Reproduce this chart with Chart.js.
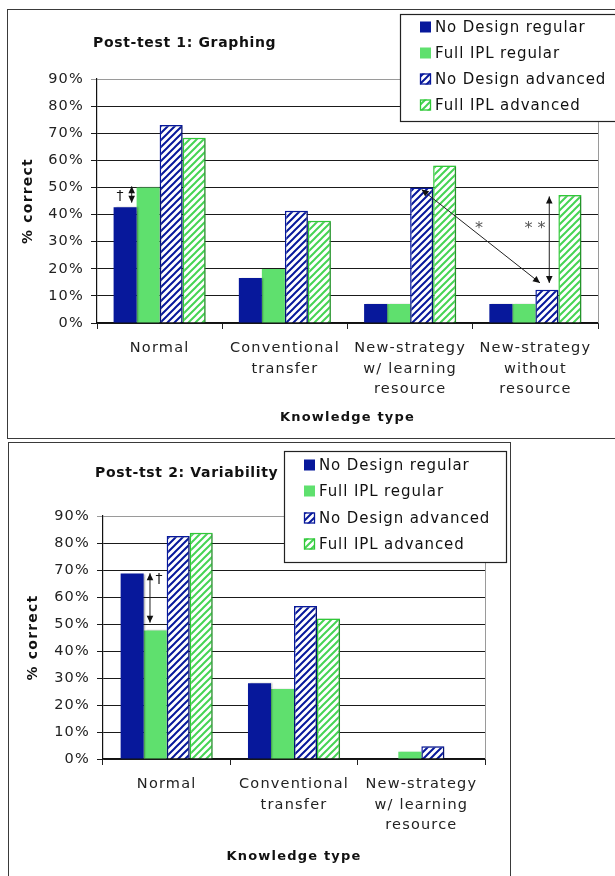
<!DOCTYPE html>
<html>
<head>
<meta charset="utf-8">
<script src="https://cdn.jsdelivr.net/npm/chart.js@4.4.1/dist/chart.umd.min.js"></script>
<style>
  html, body { margin: 0; padding: 0; background: #fff; }
  body { width: 615px; height: 876px; position: relative; overflow: hidden; }
  .frame { position: absolute; border: 1.5px solid #3a3a3a; box-sizing: border-box; }
  canvas { position: absolute; left: 0; }
</style>
</head>
<body>
<div class="frame" style="left:7px;top:9px;width:630px;height:430px"></div>
<div class="frame" style="left:8px;top:442px;width:503px;height:450px"></div>
<canvas id="graphing" width="615" height="440" style="top:0"></canvas>
<canvas id="variability" width="615" height="436" style="top:440px"></canvas>
<script>
// --- Data -----------------------------------------------------------
const seriesNames = ["No Design regular", "Full IPL regular", "No Design advanced", "Full IPL advanced"];

const graphingGroups = [
    ["Normal"],
    ["Conventional", "transfer"],
    ["New-strategy", "w/ learning", "resource"],
    ["New-strategy", "without", "resource"]
];
const graphingNoDesignRegular  = [42.7, 16.6, 7, 7];
const graphingFullIplRegular   = [50, 19.9, 7, 7];
const graphingNoDesignAdvanced = [73, 41.4, 50, 12.3];
const graphingFullIplAdvanced  = [68.3, 37.7, 58.1, 47.2];

const variabilityGroups = [
    ["Normal"],
    ["Conventional", "transfer"],
    ["New-strategy", "w/ learning", "resource"]
];
const variabilityNoDesignRegular  = [68.7, 28.1, 0];
const variabilityFullIplRegular   = [47.6, 25.9, 2.7];
const variabilityNoDesignAdvanced = [82.6, 56.7, 4.7];
const variabilityFullIplAdvanced  = [83.8, 52, 0];

const yTicks = [0, 10, 20, 30, 40, 50, 60, 70, 80, 90];

// significance arrows, x in category units (0 = centre of first group), y in %
const graphingArrows = [
    { x1: -0.223, y1: 50.4, x2: -0.223, y2: 44.4 },
    { x1: 2.092,  y1: 49.2, x2: 3.037,  y2: 14.8 },
    { x1: 3.111,  y1: 46.7, x2: 3.111,  y2: 14.8 }
];
const graphingMarks = [
    { x: -0.316, y: 46.7, text: "†" },
    { x: 2.55,   y: 34.7, text: "*" },
    { x: 2.997,  y: 34.7, text: "* *" }
];
const variabilityArrows = [
    { x1: -0.131, y1: 68.8, x2: -0.131, y2: 50.5 }
];
const variabilityMarks = [
    { x: -0.06, y: 66.6, text: "†" }
];

// --- Styles ---------------------------------------------------------
const FONT = "'DejaVu Sans', Verdana, sans-serif";
const NAVY = "#07189b";
const GREEN = "#5fe06e";

function hatch(stripe) {
    const c = document.createElement("canvas");
    c.width = c.height = 7;
    const g = c.getContext("2d");
    g.fillStyle = "#fff";
    g.fillRect(0, 0, 7, 7);
    g.strokeStyle = stripe;
    g.lineWidth = 2;
    g.beginPath();
    g.moveTo(-1, 8); g.lineTo(8, -1);
    g.moveTo(-1, 1); g.lineTo(1, -1);
    g.moveTo(6, 8); g.lineTo(8, 6);
    g.stroke();
    return c.getContext("2d").createPattern(c, "repeat");
}
const navyHatch = hatch(NAVY);
const greenHatch = hatch("#46d454");

function makeDatasets(values) {
    const fills = [NAVY, GREEN, navyHatch, greenHatch];
    const borders = [NAVY, GREEN, NAVY, "#2fc837"];
    const widths = [0, 0, 1.5, 1.5];
    return values.map((v, i) => ({
        label: seriesNames[i],
        data: v,
        backgroundColor: fills[i],
        borderColor: borders[i],
        borderWidth: widths[i],
        borderSkipped: "bottom"
    }));
}

function drawArrowHead(ctx, tx, ty, fx, fy) {
    const a = Math.atan2(ty - fy, tx - fx), L = 7, W = 3.3;
    ctx.beginPath();
    ctx.moveTo(tx, ty);
    ctx.lineTo(tx - L * Math.cos(a) + W * Math.sin(a), ty - L * Math.sin(a) - W * Math.cos(a));
    ctx.lineTo(tx - L * Math.cos(a) - W * Math.sin(a), ty - L * Math.sin(a) + W * Math.cos(a));
    ctx.closePath();
    ctx.fill();
}

// --- Plugin: shadows, arrows, title, legend box -----------------------
const decor = {
    id: "decor",
    beforeDraw(chart) {
        chart.ctx.letterSpacing = "1.2px";
    },
    beforeDatasetsDraw(chart) {
        const c = chart.ctx;
        c.save();
        c.shadowColor = "rgba(0,0,0,0.25)";
        c.shadowOffsetX = 2;
        c.shadowOffsetY = 0;
        c.shadowBlur = 1.5;
    },
    afterDatasetsDraw(chart) {
        chart.ctx.restore();
    },
    afterDraw(chart, args, o) {
        const ctx = chart.ctx, xs = chart.scales.x, ys = chart.scales.y, area = chart.chartArea;
        ctx.save();

        // plot area right edge
        ctx.strokeStyle = "#9a9a9a";
        ctx.lineWidth = 1;
        ctx.beginPath();
        ctx.moveTo(area.right + 0.5, area.top);
        ctx.lineTo(area.right + 0.5, area.bottom);
        ctx.stroke();

        // arrows
        ctx.strokeStyle = "#222";
        ctx.fillStyle = "#111";
        ctx.lineWidth = 1;
        o.arrows.forEach(a => {
            const x1 = xs.getPixelForValue(a.x1), y1 = ys.getPixelForValue(a.y1);
            const x2 = xs.getPixelForValue(a.x2), y2 = ys.getPixelForValue(a.y2);
            ctx.beginPath();
            ctx.moveTo(x1, y1);
            ctx.lineTo(x2, y2);
            ctx.stroke();
            drawArrowHead(ctx, x1, y1, x2, y2);
            drawArrowHead(ctx, x2, y2, x1, y1);
        });
        ctx.textAlign = "center";
        ctx.textBaseline = "middle";
        ctx.letterSpacing = "0px";
        o.marks.forEach(m => {
            const dagger = m.text === "†";
            ctx.font = (dagger ? "14px " : "16px ") + FONT;
            ctx.fillStyle = dagger ? "#111" : "#555";
            ctx.fillText(m.text, xs.getPixelForValue(m.x), ys.getPixelForValue(m.y));
        });

        // title
        ctx.font = "bold 14px " + FONT;
        ctx.textAlign = "left";
        ctx.fillStyle = "#111";
        ctx.letterSpacing = "0.65px";
        ctx.fillText(o.title, o.titleX, o.titleY);

        // legend box
        const L = o.legend;
        ctx.fillStyle = "#fff";
        ctx.fillRect(L.x, L.y, L.w, L.h);
        ctx.strokeStyle = "#222";
        ctx.lineWidth = 1.2;
        ctx.strokeRect(L.x + 0.5, L.y + 0.5, L.w, L.h);
        ctx.font = "15px " + FONT;
        ctx.letterSpacing = "0.9px";
        chart.data.datasets.forEach((ds, i) => {
            const cy = L.rowY[i];
            const sx = L.swatchX, sy = cy - 5.5;
            ctx.fillStyle = ds.backgroundColor;
            ctx.fillRect(sx, sy, 11, 11);
            if (ds.borderWidth) {
                ctx.strokeStyle = ds.borderColor;
                ctx.lineWidth = 1.3;
                ctx.strokeRect(sx + 0.5, sy + 0.5, 10, 10);
            }
            ctx.fillStyle = "#111";
            ctx.fillText(ds.label, L.textX, cy + 1);
        });
        ctx.restore();
    }
};

function makeChart(id, groups, values, cfg) {
    return new Chart(document.getElementById(id), {
        type: "bar",
        data: { labels: groups, datasets: makeDatasets(values) },
        options: {
            responsive: false,
            animation: false,
            devicePixelRatio: 1,
            layout: { padding: { top: cfg.top, right: cfg.right, left: 0, bottom: 0 } },
            datasets: { bar: { categoryPercentage: cfg.catPct, barPercentage: 1 } },
            scales: {
                x: {
                    afterFit: s => { s.height = 117; },
                    grid: { offset: true, drawOnChartArea: false, tickLength: 6, color: "#222" },
                    border: { color: "#111", width: 1.2 },
                    ticks: {
                        color: "#222",
                        font: { family: FONT, size: 14.5, lineHeight: 1.42 },
                        padding: 9,
                        maxRotation: 0,
                        autoSkip: false
                    },
                    title: {
                        display: true,
                        text: "Knowledge type",
                        color: "#111",
                        font: { family: FONT, size: 13, weight: "bold" },
                        padding: { top: 0, bottom: cfg.xTitlePad }
                    }
                },
                y: {
                    min: 0,
                    max: 90,
                    afterFit: s => { s.width = cfg.left; },
                    afterBuildTicks: s => { s.ticks = yTicks.map(v => ({ value: v })); },
                    ticks: {
                        callback: v => v + "%",
                        color: "#222",
                        font: { family: FONT, size: 14.5 },
                        padding: 7
                    },
                    grid: {
                        color: c => (c.tick && c.tick.value === 90 ? "#9a9a9a" : "#1a1a1a"),
                        tickLength: 6
                    },
                    border: { color: "#111", width: 1.2 },
                    title: {
                        display: true,
                        text: "% correct",
                        color: "#111",
                        font: { family: FONT, size: 14, weight: "bold" },
                        padding: { top: cfg.yTitlePad, bottom: 0 }
                    }
                }
            },
            plugins: {
                legend: { display: false },
                tooltip: { enabled: false },
                decor: cfg.decor
            }
        },
        plugins: [decor]
    });
}

makeChart("graphing", graphingGroups,
    [graphingNoDesignRegular, graphingFullIplRegular, graphingNoDesignAdvanced, graphingFullIplAdvanced],
    {
        top: 79, right: 17, left: 97, catPct: 0.735, xTitlePad: 15, yTitlePad: 20,
        decor: {
            title: "Post-test 1: Graphing", titleX: 93, titleY: 43,
            legend: { x: 400, y: 14, w: 240, h: 107, swatchX: 420, textX: 435, rowY: [27, 53, 79, 105] },
            arrows: graphingArrows,
            marks: graphingMarks
        }
    });

makeChart("variability", variabilityGroups,
    [variabilityNoDesignRegular, variabilityFullIplRegular, variabilityNoDesignAdvanced, variabilityFullIplAdvanced],
    {
        top: 76, right: 130, left: 103, catPct: 0.723, xTitlePad: 12, yTitlePad: 25,
        decor: {
            title: "Post-tst 2: Variability", titleX: 95, titleY: 33,
            legend: { x: 284, y: 11, w: 222, h: 111, swatchX: 304, textX: 319, rowY: [25, 51, 78, 104] },
            arrows: variabilityArrows,
            marks: variabilityMarks
        }
    });
</script>
</body>
</html>
